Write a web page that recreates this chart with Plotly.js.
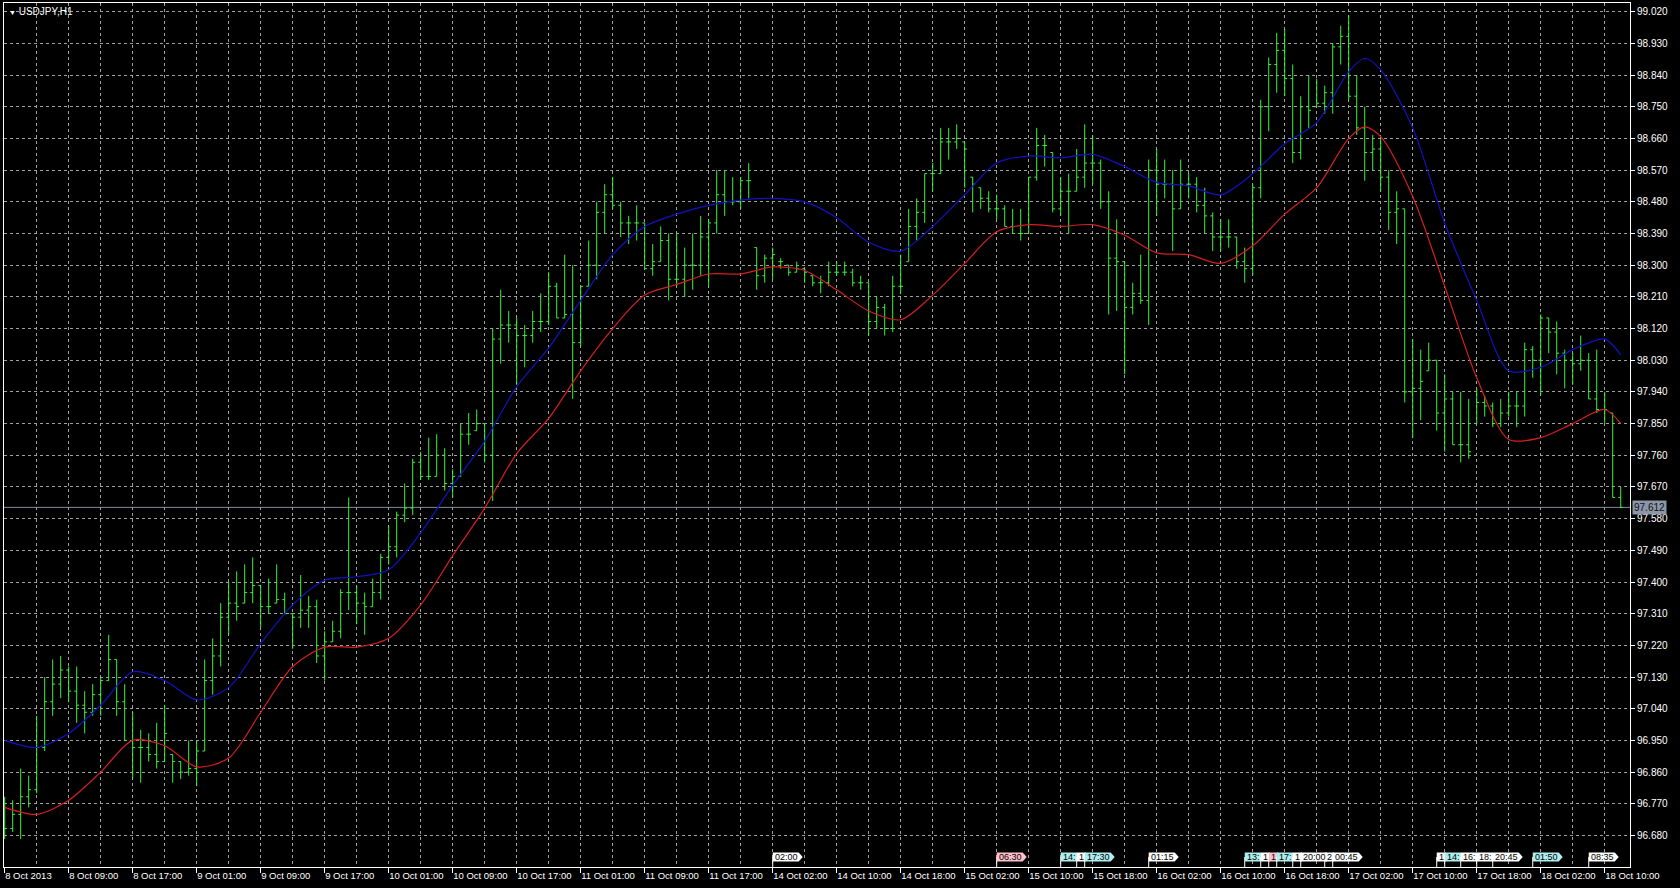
<!DOCTYPE html>
<html><head><meta charset="utf-8">
<script src="https://cdn.plot.ly/plotly-3.0.1.min.js"></script>
<style>html,body{margin:0;padding:0;background:#000;}#chart{width:1680px;height:888px;}</style>
</head><body><div id="chart"></div>
<script>
// ---- data (USDJPY H1) ----
const opens = [
96.72,96.70,96.74,96.79,96.81,96.93,97.06,97.11,97.15,97.09,
97.05,97.03,97.08,97.12,97.18,97.06,96.95,96.93,96.93,96.91,
96.89,96.91,96.89,96.86,96.87,96.92,97.12,97.19,97.30,97.34,
97.34,97.37,97.39,97.33,97.34,97.35,97.31,97.30,97.32,97.33,
97.19,97.23,97.26,97.37,97.37,97.34,97.33,97.37,97.47,97.50,
97.59,97.61,97.74,97.70,97.70,97.76,97.68,97.70,97.82,97.83,
97.85,97.76,98.09,98.13,98.13,98.10,98.10,98.14,98.14,98.24,
98.15,98.16,98.08,98.24,98.30,98.45,98.50,98.47,98.42,98.42,
98.42,98.29,98.31,98.37,98.26,98.26,98.30,98.30,98.38,98.42,
98.50,98.48,98.48,98.54,98.35,98.27,98.32,98.31,98.30,98.28,
98.29,98.27,98.25,98.25,98.28,98.28,98.28,98.25,98.25,98.14,
98.18,98.12,98.24,98.31,98.41,98.45,98.56,98.56,98.65,98.65,
98.65,98.55,98.52,98.49,98.46,98.46,98.41,98.39,98.39,98.55,
98.64,98.62,98.46,98.51,98.51,98.55,98.59,98.59,98.48,98.32,
98.31,98.18,98.22,98.20,98.57,98.53,98.53,98.46,98.53,98.53,
98.47,98.44,98.38,98.38,98.38,98.31,98.29,98.52,98.75,98.87,
98.91,98.83,98.62,98.75,98.75,98.76,98.79,98.92,98.95,98.78,
98.69,98.62,98.63,98.55,98.45,98.46,97.94,97.95,98.00,98.03,
97.88,97.92,97.79,97.79,97.85,97.91,97.90,97.85,97.88,97.90,
97.90,98.06,98.03,98.15,98.11,98.05,98.03,98.02,98.03,97.92,
97.89,97.88,97.64];
const highs = [
96.79,96.78,96.87,96.85,97.02,97.13,97.18,97.19,97.16,97.16,
97.09,97.11,97.13,97.25,97.18,97.11,97.03,96.98,96.97,97.00,
97.05,96.91,96.89,96.95,96.95,97.18,97.24,97.34,97.40,97.43,
97.45,97.47,97.39,97.41,97.45,97.37,97.31,97.42,97.36,97.35,
97.26,97.29,97.38,97.64,97.39,97.37,97.41,97.48,97.56,97.60,
97.68,97.75,97.77,97.81,97.82,97.78,97.72,97.85,97.88,97.89,
97.85,98.12,98.23,98.17,98.15,98.13,98.17,98.22,98.28,98.25,
98.33,98.30,98.24,98.37,98.48,98.53,98.55,98.48,98.44,98.47,
98.42,98.36,98.41,98.39,98.39,98.35,98.39,98.44,98.43,98.57,
98.57,98.55,98.55,98.59,98.35,98.33,98.35,98.32,98.30,98.31,
98.29,98.27,98.27,98.31,98.31,98.31,98.29,98.27,98.25,98.21,
98.19,98.27,98.33,98.46,98.49,98.56,98.59,98.69,98.69,98.70,
98.65,98.55,98.52,98.51,98.50,98.47,98.46,98.46,98.55,98.69,
98.67,98.62,98.55,98.56,98.63,98.70,98.67,98.60,98.51,98.43,
98.31,98.25,98.33,98.60,98.63,98.60,98.57,98.60,98.56,98.55,
98.52,98.45,98.43,98.43,98.38,98.35,98.53,98.77,98.89,98.96,
98.97,98.87,98.78,98.84,98.83,98.81,98.93,98.98,99.01,98.84,
98.75,98.67,98.66,98.57,98.51,98.46,98.09,98.06,98.08,98.03,
97.99,97.94,97.94,97.92,97.95,97.93,97.91,97.92,97.94,97.94,
98.08,98.07,98.16,98.15,98.14,98.06,98.05,98.10,98.05,98.06,
97.94,97.88,97.67];
const lows = [
96.67,96.69,96.67,96.76,96.80,96.92,97.02,97.07,97.06,97.00,
96.97,97.02,97.02,97.12,97.02,96.95,96.84,96.83,96.89,96.87,
96.89,96.83,96.84,96.85,96.82,96.92,97.08,97.16,97.25,97.29,
97.34,97.34,97.27,97.31,97.34,97.31,97.21,97.27,97.27,97.17,
97.12,97.23,97.24,97.32,97.28,97.25,97.33,97.35,97.45,97.47,
97.57,97.59,97.69,97.69,97.70,97.66,97.64,97.70,97.79,97.83,
97.74,97.63,98.02,98.08,97.96,98.01,98.08,98.11,98.13,98.15,
98.15,97.92,98.07,98.24,98.26,98.39,98.46,98.38,98.36,98.37,
98.29,98.27,98.31,98.20,98.24,98.21,98.23,98.27,98.24,98.39,
98.44,98.47,98.46,98.49,98.23,98.25,98.26,98.29,98.27,98.28,
98.25,98.24,98.22,98.24,98.27,98.27,98.24,98.23,98.10,98.12,
98.10,98.11,98.22,98.31,98.37,98.42,98.51,98.56,98.60,98.63,
98.52,98.45,98.46,98.45,98.43,98.41,98.39,98.37,98.39,98.54,
98.58,98.45,98.44,98.39,98.51,98.52,98.53,98.46,98.16,98.17,
97.99,98.16,98.19,98.13,98.44,98.49,98.34,98.46,98.49,98.45,
98.39,98.34,98.34,98.35,98.29,98.25,98.27,98.49,98.68,98.79,
98.78,98.59,98.60,98.69,98.75,98.73,98.73,98.87,98.77,98.67,
98.54,98.57,98.51,98.40,98.36,97.91,97.81,97.86,98.00,97.83,
97.77,97.79,97.74,97.75,97.85,97.87,97.84,97.84,97.87,97.84,
97.87,97.98,97.93,98.05,97.99,97.95,97.96,98.00,97.92,97.88,
97.85,97.64,97.61];
const closes = [
96.70,96.74,96.79,96.81,96.93,97.06,97.11,97.15,97.09,97.05,
97.03,97.08,97.12,97.18,97.06,96.95,96.93,96.93,96.91,96.89,
96.97,96.89,96.86,96.87,96.92,97.12,97.19,97.30,97.34,97.33,
97.37,97.39,97.33,97.33,97.35,97.31,97.30,97.32,97.33,97.19,
97.23,97.26,97.37,97.37,97.34,97.33,97.37,97.47,97.50,97.59,
97.61,97.74,97.70,97.70,97.76,97.68,97.70,97.82,97.82,97.85,
97.76,98.09,98.13,98.13,98.10,98.10,98.14,98.14,98.24,98.15,
98.16,98.08,98.24,98.30,98.45,98.50,98.47,98.42,98.42,98.42,
98.29,98.31,98.37,98.26,98.26,98.30,98.30,98.38,98.42,98.50,
98.48,98.48,98.54,98.54,98.27,98.32,98.33,98.31,98.28,98.29,
98.28,98.25,98.25,98.28,98.28,98.28,98.25,98.25,98.14,98.18,
98.12,98.24,98.24,98.41,98.45,98.56,98.56,98.65,98.65,98.66,
98.63,98.53,98.49,98.46,98.46,98.41,98.39,98.39,98.55,98.64,
98.64,98.46,98.51,98.51,98.55,98.59,98.59,98.48,98.32,98.31,
98.18,98.22,98.20,98.57,98.53,98.53,98.46,98.53,98.53,98.47,
98.44,98.38,98.38,98.38,98.31,98.29,98.52,98.75,98.87,98.91,
98.83,98.62,98.75,98.74,98.76,98.79,98.92,98.95,98.78,98.69,
98.62,98.63,98.55,98.45,98.46,97.94,97.95,97.97,98.03,97.88,
97.92,97.79,97.79,97.77,97.91,97.90,97.85,97.88,97.90,97.90,
98.06,98.03,98.15,98.11,98.05,98.03,98.02,98.03,97.92,97.89,
97.89,97.64,97.612];

// moving averages, read at every 4th bar
const maBars = [0,4,8,12,16,20,24,28,32,36,40,44,48,52,56,60,64,68,72,76,80,84,88,92,96,100,
  104,108,112,116,120,124,128,132,136,140,144,148,152,156,160,164,168,170,172,176,180,184,188,192,196,200,202];
const maBlue = [96.95,96.93,96.97,97.05,97.145,97.12,97.065,97.10,97.225,97.335,97.405,97.415,97.435,97.54,97.675,97.80,
  97.955,98.065,98.20,98.33,98.41,98.445,98.47,98.485,98.49,98.48,
  98.435,98.365,98.34,98.41,98.50,98.59,98.61,98.605,98.615,98.58,98.535,98.525,98.50,98.56,98.645,98.705,98.85,98.887,98.855,
  98.69,98.42,98.20,98.00,98.01,98.06,98.09,98.045];
const maRed = [96.76,96.74,96.78,96.86,96.95,96.935,96.875,96.90,97.03,97.16,97.215,97.215,97.24,97.335,97.475,97.61,
  97.765,97.865,98.00,98.12,98.215,98.245,98.275,98.275,98.295,98.285,
  98.23,98.17,98.145,98.215,98.305,98.395,98.415,98.41,98.415,98.385,98.335,98.33,98.305,98.355,98.445,98.52,98.66,98.693,98.665,
  98.495,98.24,97.98,97.805,97.81,97.85,97.89,97.85];

const tickBars = [0,8,16,24,32,40,48,56,64,72,80,88,96,104,112,120,128,136,144,152,160,168,176,184,192,200];
const tickLabels = ["8 Oct 2013","8 Oct 09:00","8 Oct 17:00","9 Oct 01:00","9 Oct 09:00","9 Oct 17:00",
  "10 Oct 01:00","10 Oct 09:00","10 Oct 17:00","11 Oct 01:00","11 Oct 09:00","11 Oct 17:00",
  "14 Oct 02:00","14 Oct 10:00","14 Oct 18:00","15 Oct 02:00","15 Oct 10:00","15 Oct 18:00",
  "16 Oct 02:00","16 Oct 10:00","16 Oct 18:00","17 Oct 02:00","17 Oct 10:00","17 Oct 18:00",
  "18 Oct 02:00","18 Oct 10:00"];

const eventBars = [96,124,132,134,135,143,155,157,158,159,161,162,165,166,179,180,182,184,186,191,198];
const eventTexts = ["02:00","06:30","14:","1","17:30","01:15","13:","1","1","17:","1","20:00","2","00:45","1","14:","16:","18:","20:45","01:50","08:35"];
const eventKinds = ["low","high","mid","low","mid","low","mid","low","high","mid","low","low","low","low","low","mid","low","low","low","mid","low"];

const symbolTitle = "USDJPY,H1";
const lastPrice = 97.612;

// ---- drawing ----
const FONT = "'Liberation Sans', Arial, sans-serif";
const GRID = '#a0a0a0';
const Y_MIN = 96.5905, Y_MAX = 99.0447;
const X_RANGE = [-0.0875, 203.16];
const EVENT_Y = 96.619;
const kindColor = {low:'#ffffff', mid:'#afeeee', high:'#ffc0cb'};
const barIdx = closes.map((_, i) => i);

const traces = [
  {type:'ohlc', x:barIdx, open:opens, high:highs, low:lows, close:closes,
   increasing:{line:{color:'#3cf03c', width:1}}, decreasing:{line:{color:'#3cf03c', width:1}},
   tickwidth:0.3, hoverinfo:'skip', xaxis:'x', yaxis:'y'},
  {type:'scatter', mode:'lines', x:maBars, y:maBlue, xaxis:'x2', yaxis:'y',
   line:{color:'#1212c4', width:1.2, shape:'spline', smoothing:0.8}, hoverinfo:'skip'},
  {type:'scatter', mode:'lines', x:maBars, y:maRed, xaxis:'x', yaxis:'y',
   line:{color:'#d42020', width:1.2, shape:'spline', smoothing:0.8}, hoverinfo:'skip'}
];

const cv = document.createElement('canvas').getContext('2d');
cv.font = "9px 'Liberation Sans'";

const shapes = [
  {type:'line', xref:'paper', x0:0, x1:1, yref:'y', y0:lastPrice, y1:lastPrice,
   line:{color:'#7d899b', width:1}, layer:'below'}
];
const annotations = [
  {xref:'paper', yref:'paper', x:0, y:1, xanchor:'left', yanchor:'top', xshift:3, yshift:-1,
   text:"<span style='font-size:7px'>▼</span> " + symbolTitle, showarrow:false,
   font:{family:FONT, size:10, color:'#ffffff'}},
  {xref:'paper', yref:'y', x:1, y:lastPrice, xanchor:'left', yanchor:'middle', xshift:2,
   text:lastPrice.toFixed(3), showarrow:false, bgcolor:'#8b96a6', borderpad:1,
   font:{family:FONT, size:10, color:'#101018'}}
];
eventBars.forEach((b, k) => {
  const w = Math.ceil(cv.measureText(eventTexts[k]).width) + 3;
  shapes.push({type:'line', xref:'x', yref:'y', x0:b, x1:b, y0:Y_MIN, y1:EVENT_Y,
    line:{color:'#ffffff', width:1}, layer:'above'});
  shapes.push({type:'path', xref:'x', yref:'y', xsizemode:'pixel', ysizemode:'pixel',
    xanchor:b, yanchor:EVENT_Y,
    path:`M0,-4.5 L${w},-4.5 L${w+4},0 L${w},4.5 L0,4.5 Z`,
    fillcolor:kindColor[eventKinds[k]], line:{width:0}, layer:'above'});
  annotations.push({xref:'x', yref:'y', x:b, y:EVENT_Y, xanchor:'left', yanchor:'middle', xshift:0,
    text:eventTexts[k], showarrow:false, font:{family:FONT, size:9, color:'#000000'}});
});

const layout = {
  width:1680, height:888,
  paper_bgcolor:'#000000', plot_bgcolor:'#000000',
  margin:{l:4, r:50, t:3, b:21},
  showlegend:false, hovermode:false, dragmode:false,
  font:{family:FONT, color:'#ffffff', size:10},
  xaxis:{range:X_RANGE, tickmode:'linear', tick0:0, dtick:4, showticklabels:false, ticks:'',
    showgrid:true, gridcolor:GRID, griddash:'3px,3px', gridwidth:1,
    showline:true, linecolor:'#ffffff', linewidth:1, mirror:true, zeroline:false,
    rangeslider:{visible:false}, fixedrange:true},
  xaxis2:{overlaying:'x', anchor:'y', side:'bottom', range:X_RANGE,
    tickmode:'array', tickvals:tickBars, ticktext:tickLabels,
    ticks:'outside', ticklen:5, tickcolor:'#ffffff', tickwidth:1,
    ticklabelposition:'outside right', tickfont:{family:FONT, size:9.5, color:'#ffffff'},
    showgrid:false, showline:false, zeroline:false, fixedrange:true},
  yaxis:{side:'right', range:[Y_MIN, Y_MAX], tickmode:'linear', tick0:96.68, dtick:0.09,
    tickformat:'.3f', ticks:'outside', ticklen:4, tickcolor:'#ffffff',
    tickfont:{family:FONT, size:10, color:'#ffffff'},
    showgrid:true, gridcolor:GRID, griddash:'3px,3px', gridwidth:1,
    showline:true, linecolor:'#ffffff', linewidth:1, mirror:true, zeroline:false, fixedrange:true},
  shapes:shapes, annotations:annotations
};

Plotly.newPlot('chart', traces, layout, {displayModeBar:false, staticPlot:true});
</script></body></html>
